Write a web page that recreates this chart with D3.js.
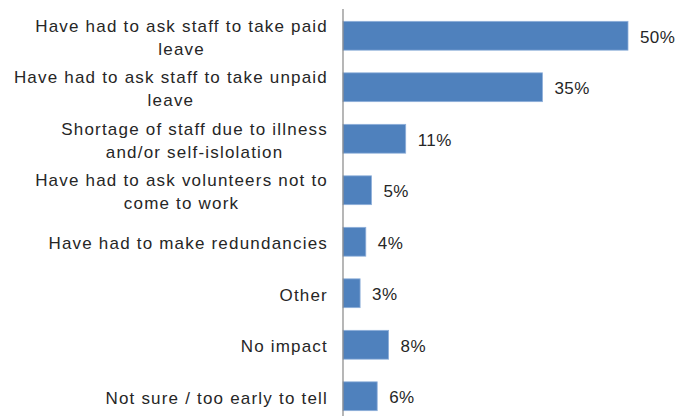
<!DOCTYPE html>
<html><head><meta charset="utf-8">
<script src="https://cdn.jsdelivr.net/npm/d3@7"></script>
<style>
html,body{margin:0;padding:0;background:#fff;}
text{font-family:"Liberation Sans Narrow","Arial Narrow","Liberation Sans",Arial,sans-serif;fill:#262626;}
</style></head>
<body><svg id="c" width="681" height="416"></svg>
<script>
const categories = [
  ["Have had to ask staff to take paid","leave"],
  ["Have had to ask staff to take unpaid","leave"],
  ["Shortage of staff due to illness","and/or self-islolation"],
  ["Have had to ask volunteers not to","come to work"],
  ["Have had to make redundancies"],
  ["Other"],
  ["No impact"],
  ["Not sure / too early to tell"]
];
const values = [50, 35, 11, 5, 4, 3, 8, 6];
const valueLabels = ["50%","35%","11%","5%","4%","3%","8%","6%"];

const svg = d3.select("#c");
const ids = categories.map((d,i)=>i);
const x = d3.scaleLinear().domain([0,50]).range([343,628]);
const y = d3.scaleBand().domain(ids).range([10,422]).paddingInner(0.44).paddingOuter(0.22);

svg.selectAll("rect.bar").data(values).join("rect")
  .attr("class","bar")
  .attr("x", x(0))
  .attr("y", (d,i)=>y(i))
  .attr("width", d=>x(d)-x(0))
  .attr("height", y.bandwidth())
  .attr("fill","#4f81bd")
  .attr("stroke","#8fb0da").attr("stroke-width",0.8);

svg.append("line").attr("x1",x(0)).attr("x2",x(0)).attr("y1",9).attr("y2",416)
  .attr("stroke","#868686").attr("stroke-width",1.2);

svg.selectAll("text.val").data(values).join("text")
  .attr("class","val")
  .attr("x", d=>x(d)+12)
  .attr("y", (d,i)=>y(i)+y.bandwidth()/2+1)
  .attr("dy","0.35em")
  .attr("font-size",17)
  .attr("letter-spacing","0.4px")
  .text((d,i)=>valueLabels[i]);

const labelRight = 328;
const lh = 23;
const ls = 1.2;
categories.forEach((lines,i)=>{
  const cy = y(i)+y.bandwidth()/2+1.5;
  const g = svg.append("g");
  if (lines.length===1){
    g.append("text").attr("x",labelRight).attr("y",cy).attr("dy","0.35em")
      .attr("letter-spacing",ls+"px")
      .attr("text-anchor","end").attr("font-size",17).text(lines[0]);
  } else {
    const t = g.append("text").attr("font-size",17).attr("text-anchor","middle").attr("letter-spacing",ls+"px");
    const tmp = g.append("text").attr("font-size",17).attr("letter-spacing",ls+"px").text(lines[0]);
    const w = tmp.node().getComputedTextLength(); tmp.remove();
    const cx = labelRight - w/2;
    lines.forEach((l,j)=>{
      t.append("tspan").attr("x",cx).attr("y",cy + (j-(lines.length-1)/2)*lh).attr("dy","0.35em").text(l);
    });
  }
});
</script></body></html>
